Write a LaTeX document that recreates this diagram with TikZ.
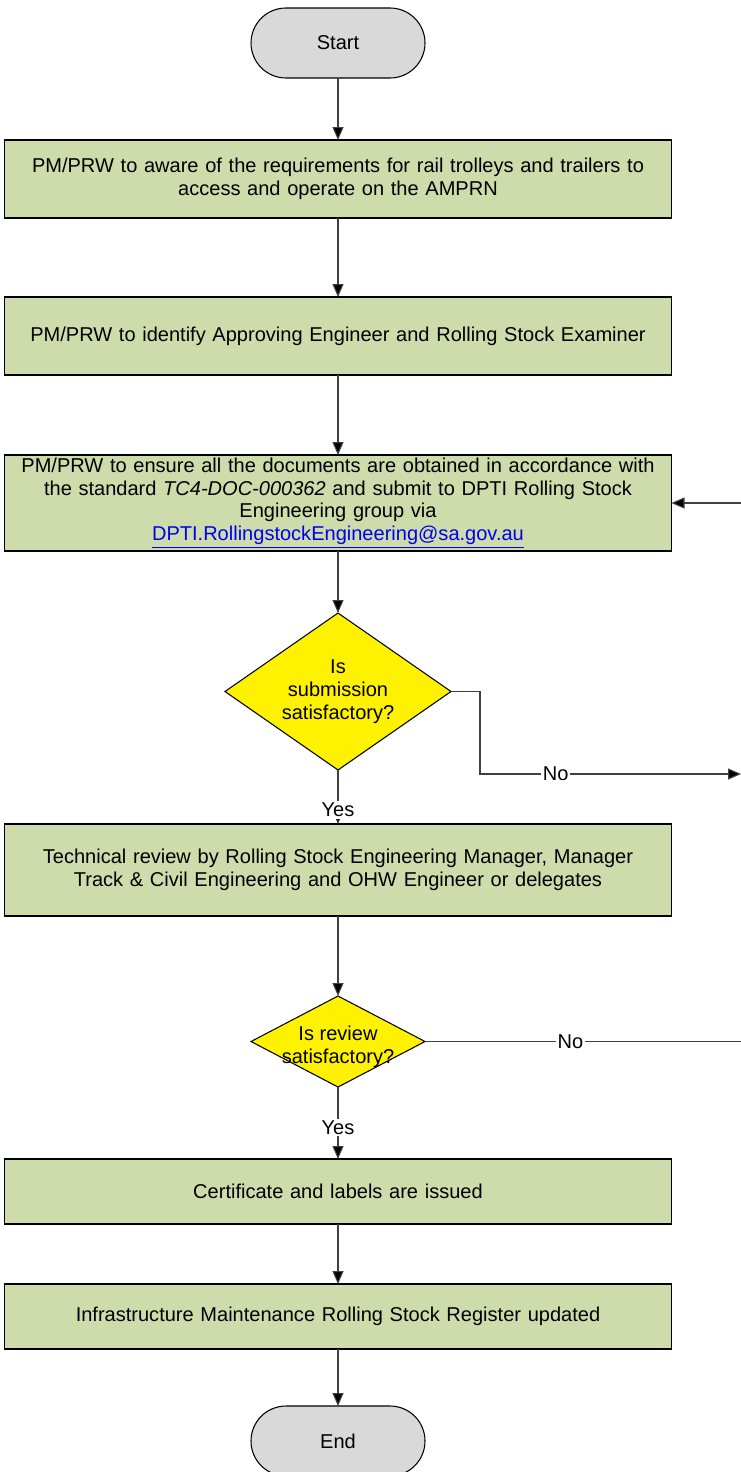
\documentclass[tikz,border=0pt]{standalone}
\usepackage{fontspec}
\setmainfont{Liberation Sans}
\usetikzlibrary{shapes.geometric, arrows.meta, positioning}
\definecolor{boxgreen}{RGB}{205,220,170}
\definecolor{termgray}{RGB}{217,217,217}
\definecolor{linkblue}{RGB}{0,0,238}

\begin{document}
\begin{tikzpicture}[
      font=\fontsize{11.4}{13}\selectfont,
      line width=0.6pt,
      term/.style={rectangle, draw=black, fill=termgray, rounded corners=0.7cm,
                   minimum width=3.48cm, minimum height=1.4cm, outer sep=0pt},
      box/.style={rectangle, draw=black, fill=boxgreen, minimum width=13.34cm,
                  text width=12.9cm, align=center, inner sep=0pt, outer sep=0pt},
      dec/.style={diamond, draw=black, fill=yellow, inner sep=0pt, outer sep=0pt},
      dectext/.style={align=center, inner sep=0pt},
      arr/.style={draw=black!75, -{Triangle[length=2.6mm, width=2.2mm, fill=black]}},
      wire/.style={draw=black!75},
      lbl/.style={fill=white, inner sep=1pt}
    ]
    \useasboundingbox (0,0) rectangle (14.82,-29.44);

    % Start
    \node[term] (start) at (6.76,-0.86) {Start};

    % Preparation
    \node[box, minimum height=1.56cm, below=1.24cm of start] (aware)
      {PM/PRW to aware of the requirements for rail trolleys and trailers to\\access and operate on the AMPRN};
    \node[box, minimum height=1.56cm, below=1.58cm of aware] (identify)
      {PM/PRW to identify Approving Engineer and Rolling Stock Examiner};
    \node[box, minimum height=1.92cm, below=1.6cm of identify] (ensure)
      {PM/PRW to ensure all the documents are obtained in accordance with\\the standard \textit{TC4-DOC-000362} and submit to DPTI Rolling Stock\\Engineering group via\\{\color{linkblue}\underline{DPTI.RollingstockEngineering@sa.gov.au}}};

    % Submission check
    \node[dec, minimum width=4.52cm, minimum height=3.14cm, below=1.24cm of ensure] (submok) {};
    \node[dectext] (submtxt) at (submok) {Is\\submission\\satisfactory?};

    % Review
    \node[box, minimum height=1.84cm, below=1.08cm of submok] (review)
      {Technical review by Rolling Stock Engineering Manager, Manager\\Track \& Civil Engineering and OHW Engineer or delegates};
    \node[dec, minimum width=3.48cm, minimum height=1.82cm, below=1.6cm of review] (revok) {};
    \node[dectext, yshift=-0.1cm] (revtxt) at (revok) {Is review\\satisfactory?};

    % Issue
    \node[box, minimum height=1.3cm, below=1.44cm of revok] (issue)
      {Certificate and labels are issued};
    \node[box, minimum height=1.3cm, below=1.2cm of issue] (register)
      {Infrastructure Maintenance Rolling Stock Register updated};

    % End
    \node[term, below=1.14cm of register] (end) {End};

    % Loop ends at the right edge
    \coordinate (edge) at (14.82,0);
    \coordinate (loopin) at (ensure.east -| edge);
    \coordinate (bend1) at ([yshift=-0.08cm]submok.south -| 9.6,0);
    \coordinate (noend1) at (bend1 -| edge);
    \coordinate (noend2) at (revok.east -| edge);

    % Arrows: main spine
    \draw[arr] (start) -- (aware);
    \draw[arr] (aware) -- (identify);
    \draw[arr] (identify) -- (ensure);
    \draw[arr] (ensure) -- (submok);
    \draw[arr] (submok) -- node[lbl, pos=0.74] (yes1) {Yes} (review);
    \draw[arr] (review) -- (revok);
    \draw[arr] (revok) -- node[lbl, pos=0.56] (yes2) {Yes} (issue);
    \draw[arr] (issue) -- (register);
    \draw[arr] (register) -- (end);

    % Arrows: rejections
    \draw[arr] (submok.east) -| (bend1) -- node[lbl, pos=0.29] (no1) {No} (noend1);
    \draw[wire] (revok.east) -- node[lbl, pos=0.46] (no2) {No} (noend2);
    \draw[arr] (loopin) -- (ensure.east);
  \end{tikzpicture}
\end{document}
